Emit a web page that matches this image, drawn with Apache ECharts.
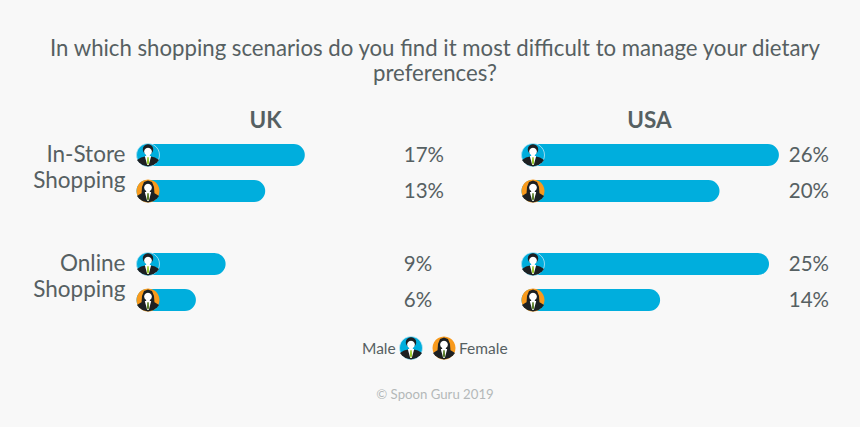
<!DOCTYPE html>
<html>
<head>
<meta charset="utf-8">
<script src="https://cdn.jsdelivr.net/npm/echarts@6/dist/echarts.min.js"></script>
<style>
html, body { margin: 0; padding: 0; background: #f8f8f8; }
#chart_container { width: 860px; height: 427px; }
</style>
</head>
<body>
<div id="chart_container"></div>
<script>
const categories = ['In-Store\nShopping', 'Online\nShopping'];
const ukMale = [17, 9];
const ukFemale = [13, 6];
const usaMale = [26, 25];
const usaFemale = [20, 14];
const regions = ['UK', 'USA'];
const titleText = 'In which shopping scenarios do you find it most difficult to manage your dietary\npreferences?';
const credit = '© Spoon Guru 2019';

const fontFamily = 'Lato, "Noto Sans", sans-serif';
const textColor = '#566062';
const barColor = '#00aedd';
const maleColor = '#00aedd';
const femaleColor = '#f89a1c';
const barHeight = 22;
const rowOffset = 18;
const labelColumn = 27;
const axisMax = 32;

// little avatar, local coords, radius about 11.5
function avatar(x, y, female) {
    const dark = '#1d2022';
    let parts = [
        {type: 'circle', shape: {cx: 0, cy: 0, r: 11.5}, style: {fill: female ? femaleColor : maleColor, stroke: female ? null : '#bfe6f3', lineWidth: 0.8}},
    ];
    if (female) {
        parts.push({type: 'polygon', shape: {points: [[-6, -4], [-4, -9], [0, -10.5], [4, -9], [6, -4], [6.5, 3], [-6.5, 3]]}, style: {fill: dark}});
    } else {
        parts.push({type: 'circle', shape: {cx: 0, cy: -5.6, r: 5.2}, style: {fill: dark}});
    }
    parts.push(
        {type: 'polygon', shape: {points: [[-11, 5], [-7, 2.6], [-3, 1.6], [3, 1.6], [7, 2.6], [11, 5], [9, 7.6], [5.5, 10], [0, 11.5], [-5.5, 10], [-9, 7.6]]}, style: {fill: dark}},
        {type: 'polygon', shape: {points: [[-3.2, 1], [3.2, 1], [0.8, 10], [-0.8, 10]]}, style: {fill: '#ffffff'}},
        {type: 'circle', shape: {cx: 0, cy: -3.4, r: 3.9}, style: {fill: '#ffffff'}},
        {type: 'rect', shape: {x: -1.8, y: -2, width: 3.6, height: 4}, style: {fill: '#ffffff'}},
        {type: 'polygon', shape: {points: [[-0.8, 2.2], [0.8, 2.2], [1.1, 8], [0, 10], [-1.1, 8]]}, style: {fill: female ? '#5c7f2a' : '#9ccb2c'}}
    );
    return {type: 'group', x: x, y: y, silent: true, children: parts};
}

function overlaySeries(gridIndex, values, offset, female) {
    return {
        type: 'custom',
        xAxisIndex: gridIndex,
        yAxisIndex: gridIndex,
        coordinateSystem: 'cartesian2d',
        clip: false,
        z: 5,
        data: values.map((v, i) => [labelColumn, i, v]),
        encode: {x: 0, y: 1},
        renderItem(params, api) {
            const start = api.coord([0, api.value(1)]);
            const col = api.coord([api.value(0), api.value(1)]);
            return {
                type: 'group',
                children: [
                    avatar(start[0] + 11.5, start[1] + offset, female),
                    {
                        type: 'text',
                        x: col[0],
                        y: col[1] + offset - 1,
                        style: {
                            text: api.value(2) + '%',
                            fill: textColor,
                            font: '20.5px ' + fontFamily,
                            textAlign: 'left',
                            textVerticalAlign: 'middle',
                        },
                    },
                ],
            };
        },
    };
}

function barSeries(gridIndex, values) {
    return {
        type: 'bar',
        xAxisIndex: gridIndex,
        yAxisIndex: gridIndex,
        data: values,
        barWidth: barHeight,
        barGap: ((rowOffset * 2 - barHeight) / barHeight * 100) + '%',
        itemStyle: {color: barColor, borderRadius: 11},
        silent: true,
    };
}

const chart = echarts.init(document.getElementById('chart_container'), null, {renderer: 'svg'});

const grids = [
    {left: 136.5, top: 118.5, width: 9.9 * axisMax, height: 218},
    {left: 521.5, top: 118.5, width: 9.9 * axisMax, height: 218},
];

chart.setOption({
    animation: false,
    backgroundColor: '#f8f8f8',
    grid: grids,
    xAxis: grids.map((g, i) => ({type: 'value', gridIndex: i, min: 0, max: axisMax, show: false})),
    yAxis: grids.map((g, i) => ({
        type: 'category',
        gridIndex: i,
        inverse: true,
        data: categories,
        axisLine: {show: false},
        axisTick: {show: false},
        axisLabel: {
            show: i === 0,
            margin: 11,
            align: 'right',
            // empty last line lifts the two words above the row centre
            formatter: v => v.split('\n').map(t => '{a|' + t + '}').join('\n') + '\n{s| }',
            rich: {
                a: {color: textColor, fontFamily, fontSize: 22.5, lineHeight: 26},
                s: {fontSize: 1, lineHeight: 14},
            },
        },
    })),
    series: [
        barSeries(0, ukMale),
        barSeries(0, ukFemale),
        overlaySeries(0, ukMale, -rowOffset, false),
        overlaySeries(0, ukFemale, rowOffset, true),
        barSeries(1, usaMale),
        barSeries(1, usaFemale),
        overlaySeries(1, usaMale, -rowOffset, false),
        overlaySeries(1, usaFemale, rowOffset, true),
    ],
    graphic: [
        {type: 'text', x: 435, y: 60, style: {text: titleText, fill: textColor, font: '22.2px ' + fontFamily, lineHeight: 25, align: 'center', verticalAlign: 'middle'}},
        {type: 'text', x: 265.5, y: 119, style: {text: regions[0], fill: textColor, font: 'bold 22.5px ' + fontFamily, textAlign: 'center', textVerticalAlign: 'middle'}},
        {type: 'text', x: 649.5, y: 119, style: {text: regions[1], fill: textColor, font: 'bold 22.5px ' + fontFamily, textAlign: 'center', textVerticalAlign: 'middle'}},
        {type: 'text', x: 362, y: 348, style: {text: 'Male', fill: textColor, font: '15.5px ' + fontFamily, textVerticalAlign: 'middle'}},
        avatar(411, 348, false),
        avatar(444, 348, true),
        {type: 'text', x: 459, y: 348, style: {text: 'Female', fill: textColor, font: '15.5px ' + fontFamily, textVerticalAlign: 'middle'}},
        {type: 'text', x: 435, y: 394, style: {text: credit, fill: '#b4b8b9', font: '13.2px ' + fontFamily, textAlign: 'center', textVerticalAlign: 'middle'}},
    ],
});
</script>
</body>
</html>
